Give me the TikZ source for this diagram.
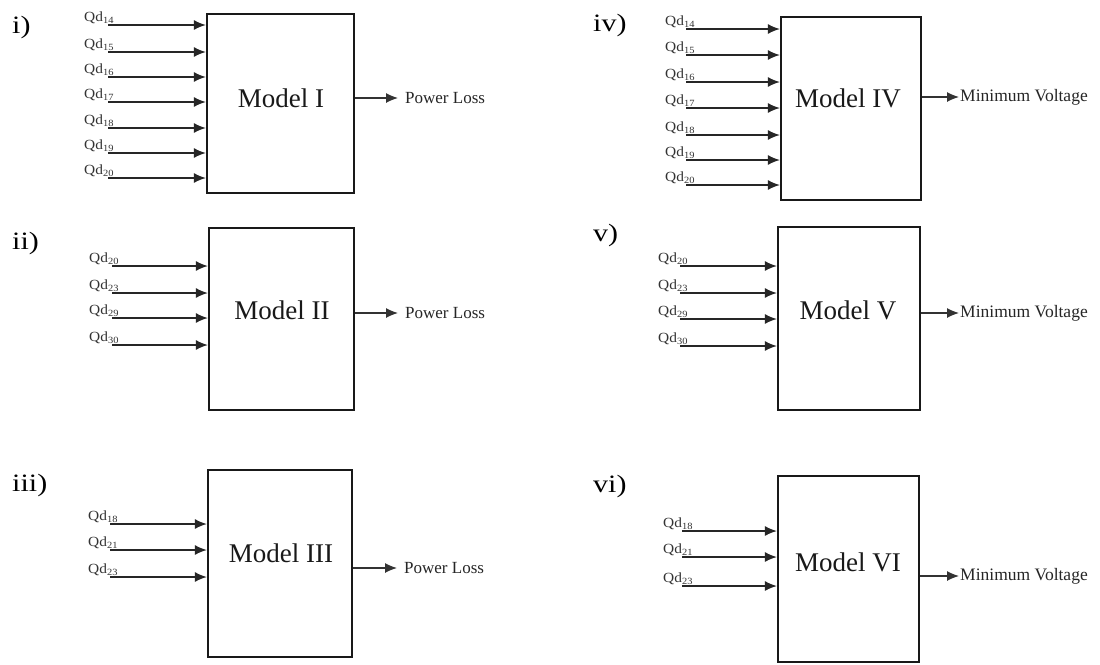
\documentclass[tikz,border=0pt]{standalone}
\usepackage{fontspec}
\setmainfont{Liberation Serif}
\usetikzlibrary{arrows.meta,calc}
\newcommand\qdsub[1]{\raisebox{-2.5pt}{\fontsize{9.5}{9.5}\selectfont #1}}
\begin{document}
\begin{tikzpicture}[x=1pt,y=-1pt,
  box/.style={draw=black!90,line width=2.2pt,fill=none,inner sep=0,rectangle},
  mtext/.style={font=\fontsize{27}{27}\selectfont,text=black!90,inner sep=0},
  plabel/.style={font=\fontsize{25}{25}\selectfont,text=black,anchor=west,inner sep=0,xscale=1.2,transform shape},
  qd/.style={font=\fontsize{14}{14}\selectfont,text=black!80,anchor=base west,inner sep=0,xscale=1.1,transform shape},
  otext/.style={font=\fontsize{17}{17}\selectfont,text=black!85,anchor=west,inner sep=0},
  arr/.style={-{Latex[length=12pt,width=10pt]},line width=1.5pt,draw=black!85},
  oarr/.style={-{Latex[length=12pt,width=10pt]},line width=1.2pt,draw=black!80}]
\useasboundingbox (0,0) rectangle (1100,664);
\fill[white] (0,0) rectangle (1100,664);

% ---------- Panel i ----------
\node[plabel] (p1) at (12,27) {i)};
\node[box,minimum width=147pt,minimum height=179pt] (m1) at (280.5,103.5) {};
\node[mtext] (t1) at (281,98) {Model I};
\foreach \y/\n [count=\k] in {25/14,52/15,77/16,102/17,128/18,153/19,178/20}{
  \coordinate (m1s\k) at (108,\y);
  \node[qd] (m1q\k) at (84,\y-4) {Qd\qdsub{\n}};
  \draw[arr] (m1s\k) -- (m1s\k -| m1.west);
}
\node[otext] (o1) at (405,98) {Power Loss};
\draw[oarr,shorten >=7pt] (m1.east |- o1.west) -- (o1.west);

% ---------- Panel ii ----------
\node[plabel] (p2) at (12,243) {ii)};
\node[box,minimum width=145pt,minimum height=182pt] (m2) at (281.5,319) {};
\node[mtext] (t2) at (282,310) {Model II};
\foreach \y/\n [count=\k] in {266/20,293/23,318/29,345/30}{
  \coordinate (m2s\k) at (112,\y);
  \node[qd] (m2q\k) at (89,\y-4) {Qd\qdsub{\n}};
  \draw[arr] (m2s\k) -- (m2s\k -| m2.west);
}
\node[otext] (o2) at (405,313) {Power Loss};
\draw[oarr,shorten >=7pt] (m2.east |- o2.west) -- (o2.west);

% ---------- Panel iii ----------
\node[plabel] (p3) at (12,485) {iii)};
\node[box,minimum width=144pt,minimum height=187pt] (m3) at (280,563.5) {};
\node[mtext] (t3) at (281,553) {Model III};
\foreach \y/\n [count=\k] in {524/18,550/21,577/23}{
  \coordinate (m3s\k) at (110,\y);
  \node[qd] (m3q\k) at (88,\y-4) {Qd\qdsub{\n}};
  \draw[arr] (m3s\k) -- (m3s\k -| m3.west);
}
\node[otext] (o3) at (404,568) {Power Loss};
\draw[oarr,shorten >=7pt] (m3.east |- o3.west) -- (o3.west);

% ---------- Panel iv ----------
\node[plabel] (p4) at (593,25) {iv)};
\node[box,minimum width=140pt,minimum height=183pt] (m4) at (851,108.5) {};
\node[mtext] (t4) at (848,98) {Model IV};
\foreach \y/\n [count=\k] in {29/14,55/15,82/16,108/17,135/18,160/19,185/20}{
  \coordinate (m4s\k) at (686,\y);
  \node[qd] (m4q\k) at (665,\y-4) {Qd\qdsub{\n}};
  \draw[arr] (m4s\k) -- (m4s\k -| m4.west);
}
\node[otext,font=\fontsize{17.5}{17.5}\selectfont] (o4) at (960,97) {Minimum Voltage};
\draw[oarr,shorten >=1pt] (m4.east |- o4.west) -- (o4.west);

% ---------- Panel v ----------
\node[plabel] (p5) at (593,235) {v)};
\node[box,minimum width=142pt,minimum height=183pt] (m5) at (849,318.5) {};
\node[mtext] (t5) at (848,310) {Model V};
\foreach \y/\n [count=\k] in {266/20,293/23,319/29,346/30}{
  \coordinate (m5s\k) at (680,\y);
  \node[qd] (m5q\k) at (658,\y-4) {Qd\qdsub{\n}};
  \draw[arr] (m5s\k) -- (m5s\k -| m5.west);
}
\node[otext,font=\fontsize{17.5}{17.5}\selectfont] (o5) at (960,313) {Minimum Voltage};
\draw[oarr,shorten >=1pt] (m5.east |- o5.west) -- (o5.west);

% ---------- Panel vi ----------
\node[plabel] (p6) at (593,486) {vi)};
\node[box,minimum width=141pt,minimum height=186pt] (m6) at (848.5,569) {};
\node[mtext] (t6) at (848,562) {Model VI};
\foreach \y/\n [count=\k] in {531/18,557/21,586/23}{
  \coordinate (m6s\k) at (682,\y);
  \node[qd] (m6q\k) at (663,\y-4) {Qd\qdsub{\n}};
  \draw[arr] (m6s\k) -- (m6s\k -| m6.west);
}
\node[otext,font=\fontsize{17.5}{17.5}\selectfont] (o6) at (960,576) {Minimum Voltage};
\draw[oarr,shorten >=1pt] (m6.east |- o6.west) -- (o6.west);
\end{tikzpicture}
\end{document}
